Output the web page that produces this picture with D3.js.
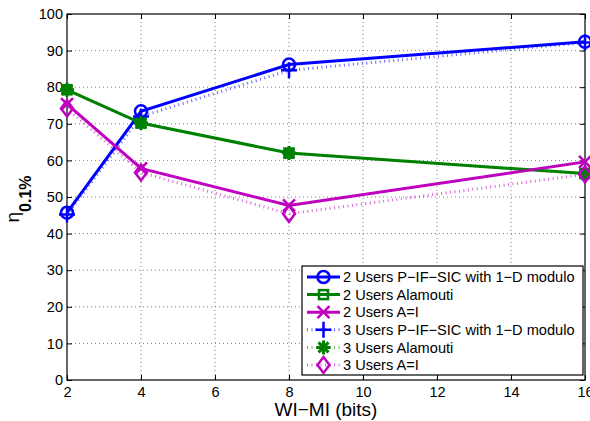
<!DOCTYPE html>
<html>
<head>
<meta charset="utf-8">
<script src="https://cdn.jsdelivr.net/npm/d3@7"></script>
<style>
  body { margin: 0; background: #fff; }
  text { font-family: "Liberation Sans", Arial, sans-serif; fill: #000; }
</style>
</head>
<body>
<div id="chart"></div>
<script>
const xValues = [2, 4, 8, 16];
const xTicks = [2, 4, 6, 8, 10, 12, 14, 16];
const yTicks = [0, 10, 20, 30, 40, 50, 60, 70, 80, 90, 100];

const pifsic2 = [45.7, 73.4, 86.2, 92.4];
const alamouti2 = [79.3, 70.2, 62.0, 56.4];
const ai2 = [75.4, 57.8, 47.7, 59.6];
const pifsic3 = [45.2, 72.0, 84.6, 92.2];
const alamouti3 = [79.3, 70.2, 62.0, 56.4];
const ai3 = [74.2, 56.7, 45.4, 56.2];

const seriesNames = [
  '2 Users P\u2212IF\u2212SIC with 1\u2212D modulo',
  '2 Users Alamouti',
  '2 Users A=I',
  '3 Users P\u2212IF\u2212SIC with 1\u2212D modulo',
  '3 Users Alamouti',
  '3 Users A=I'
];

const series = [
  { values: pifsic2, color: '#0000ff', dotted: false, marker: 'circle' },
  { values: alamouti2, color: '#008000', dotted: false, marker: 'square' },
  { values: ai2, color: '#bf00bf', dotted: false, marker: 'x' },
  { values: pifsic3, color: '#0000ff', dotted: true, marker: 'plus' },
  { values: alamouti3, color: '#008000', dotted: true, marker: 'asterisk' },
  { values: ai3, color: '#bf00bf', dotted: true, marker: 'diamond' }
];

const width = 590, height = 421;
const pL = 67, pR = 585, pT = 14, pB = 380;

const svg = d3.select('#chart').append('svg')
  .attr('width', width).attr('height', height);

const x = d3.scaleLinear().domain([2, 16]).range([pL, pR]);
const y = d3.scaleLinear().domain([0, 100]).range([pB, pT]);

// grid
const grid = svg.append('g');
grid.selectAll('.gx').data(xTicks.slice(1, -1)).enter().append('line')
  .attr('x1', d => x(d)).attr('x2', d => x(d))
  .attr('y1', pT).attr('y2', pB)
  .attr('stroke', '#808080').attr('stroke-width', 1)
  .attr('stroke-dasharray', '1,3');
grid.selectAll('.gy').data(yTicks.slice(1, -1)).enter().append('line')
  .attr('x1', pL).attr('x2', pR)
  .attr('y1', d => y(d)).attr('y2', d => y(d))
  .attr('stroke', '#808080').attr('stroke-width', 1)
  .attr('stroke-dasharray', '1,3');

// axes
svg.append('g')
  .attr('transform', `translate(0,${pB})`)
  .call(d3.axisBottom(x).tickValues(xTicks).tickSize(-5).tickPadding(7).tickFormat(d3.format('d')))
  .call(g => g.select('.domain').remove())
  .selectAll('text').style('font-size', '14.5px');
svg.append('g')
  .attr('transform', `translate(${pL},0)`)
  .call(d3.axisLeft(y).tickValues(yTicks).tickSize(-5).tickPadding(4))
  .call(g => g.select('.domain').remove())
  .selectAll('text').style('font-size', '14.5px');
svg.append('g')
  .attr('transform', `translate(0,${pT})`)
  .call(d3.axisTop(x).tickValues(xTicks).tickSize(-5).tickFormat(''))
  .call(g => g.select('.domain').remove());
svg.append('g')
  .attr('transform', `translate(${pR},0)`)
  .call(d3.axisRight(y).tickValues(yTicks).tickSize(-5).tickFormat(''))
  .call(g => g.select('.domain').remove());

svg.append('rect')
  .attr('x', pL).attr('y', pT)
  .attr('width', pR - pL).attr('height', pB - pT)
  .attr('fill', 'none').attr('stroke', '#000').attr('stroke-width', 1.2);

// markers
function drawMarker(g, type, color) {
  const s = 6;
  const st = { stroke: color, 'stroke-width': 2.5, fill: 'none' };
  let m;
  if (type === 'circle') m = g.append('circle').attr('r', s);
  else if (type === 'square') m = g.append('rect').attr('x', -4.5).attr('y', -4.5).attr('width', 9).attr('height', 9);
  else if (type === 'x') m = g.append('path').attr('d', `M${-s},${-s}L${s},${s}M${-s},${s}L${s},${-s}`);
  else if (type === 'plus') m = g.append('path').attr('d', `M${-s - 2},0L${s + 2},0M0,${-s - 2}L0,${s + 2}`);
  else if (type === 'asterisk') {
    const a = 7, b = 5;
    m = g.append('path').attr('d', `M${-a},0L${a},0M0,${-a}L0,${a}M${-b},${-b}L${b},${b}M${-b},${b}L${b},${-b}`);
    st['stroke-width'] = 3;
  } else if (type === 'diamond') m = g.append('path').attr('d', `M0,${-s - 2}L${s},0L0,${s + 2}L${-s},0Z`);
  Object.entries(st).forEach(([k, v]) => m.attr(k, v));
}

const line = d3.line().x((d, i) => x(xValues[i])).y(d => y(d));

series.forEach(s => {
  const g = svg.append('g');
  g.append('path').datum(s.values)
    .attr('d', line)
    .attr('fill', 'none')
    .attr('stroke', s.color)
    .attr('stroke-width', 3)
    .attr('stroke-opacity', s.dotted ? 0.6 : 1)
    .attr('stroke-dasharray', s.dotted ? '1,3.5' : null);
  s.values.forEach((v, i) => {
    const mg = g.append('g').attr('transform', `translate(${x(xValues[i])},${y(v)})`);
    drawMarker(mg, s.marker, s.color);
  });
});

// legend
const lx = 302, ly = 266, lw = 281, lh = 109;
const legend = svg.append('g');
legend.append('rect')
  .attr('x', lx).attr('y', ly).attr('width', lw).attr('height', lh)
  .attr('fill', '#fff').attr('stroke', '#000').attr('stroke-width', 1.2);
series.forEach((s, i) => {
  const ry = ly + 11 + i * 17.6;
  legend.append('line')
    .attr('x1', lx + 5).attr('x2', lx + 38)
    .attr('y1', ry).attr('y2', ry)
    .attr('stroke', s.color).attr('stroke-width', 3)
    .attr('stroke-opacity', s.dotted ? 0.6 : 1)
    .attr('stroke-dasharray', s.dotted ? '1,3.5' : null);
  const mg = legend.append('g').attr('transform', `translate(${lx + 21.5},${ry})`);
  drawMarker(mg, s.marker, s.color);
  legend.append('text')
    .attr('x', lx + 41).attr('y', ry).attr('dy', '0.35em')
    .style('font-size', '14.6px')
    .text(seriesNames[i]);
});

// axis titles
svg.append('text')
  .attr('x', (pL + pR) / 2).attr('y', 416)
  .attr('text-anchor', 'middle')
  .style('font-size', '19px')
  .text('WI\u2212MI (bits)');

const yl = svg.append('text')
  .attr('transform', `translate(19,199) rotate(-90)`)
  .attr('text-anchor', 'middle')
  .style('font-size', '19px');
yl.append('tspan').text('\u03b7');
yl.append('tspan').attr('dy', 12).style('font-size', '16px').style('font-weight', 'bold').text('0.1%');
</script>
</body>
</html>
